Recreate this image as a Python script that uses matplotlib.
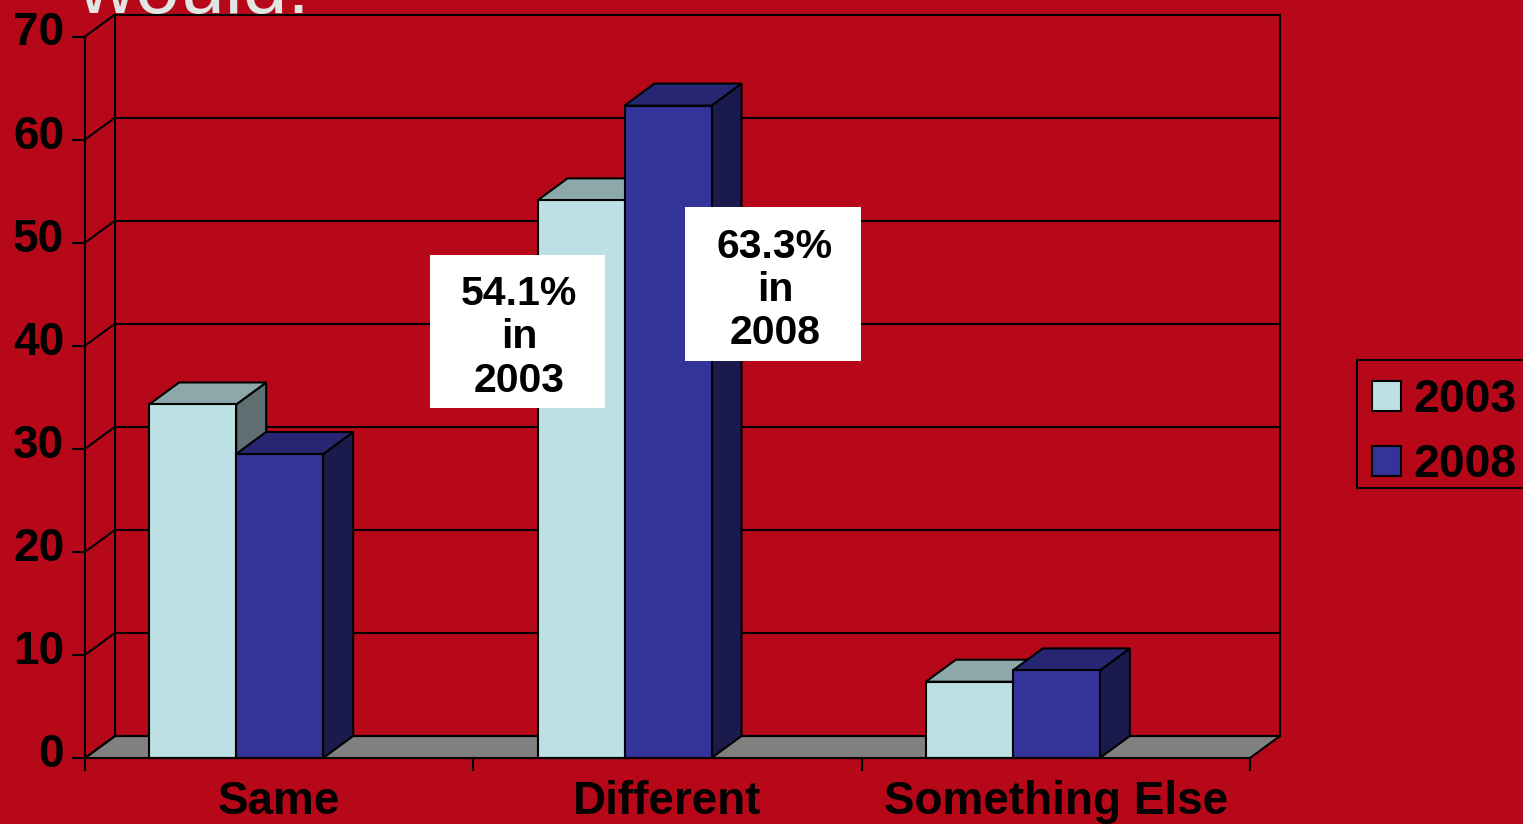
import matplotlib
matplotlib.use("Agg")
import matplotlib.pyplot as plt
from matplotlib.patches import Rectangle, Patch

plt.rcParams['font.family'] = ['Liberation Sans', 'DejaVu Sans']

categories = ['Same', 'Different', 'Something Else']
series_names = ['2003', '2008']
values_2003 = [34.3, 54.1, 7.4]
values_2008 = [29.5, 63.3, 8.5]
y_ticks = [0, 10, 20, 30, 40, 50, 60, 70]
note_2003 = '54.1%\nin\n2003'
note_2008 = '63.3%\nin\n2008'
title_tail = 'would:'

W, H = 1523, 824
RED = '#B60819'
FACE = ['#BCE0E3', '#333399']
TOP = ['#8DA8AA', '#262673']
SIDE = ['#5E7072', '#1A1A4D']
INK = 'black'
LW = 1.5

fig = plt.figure(figsize=(W / 100, H / 100), dpi=100, facecolor=RED)
L, R, B0, T0 = 85, 1250, 758, 36.5
ax = fig.add_axes([L / W, 1 - B0 / H, (R - L) / W, (B0 - T0) / H])
ax.set_xlim(-0.5, 2.5)
ax.set_ylim(0, 70)
ax.axis('off')

px_x = 3 / (R - L)
px_y = 70 / (B0 - T0)
dx = 30 * px_x
dy = 22 * px_y
x0, x1 = -0.5, 2.5

def line(xs, ys, z=2, lw=LW):
    ax.plot(xs, ys, color=INK, lw=lw, clip_on=False, zorder=z, solid_capstyle='projecting')

# floor
ax.fill([x0, x0 + dx, x1 + dx, x1], [0, dy, dy, 0], facecolor='#808080',
        edgecolor=INK, lw=LW, clip_on=False, zorder=1)
# walls and gridlines
for v in y_ticks:
    line([x0 + dx, x1 + dx], [v + dy, v + dy])
    line([x0, x0 + dx], [v, v + dy])
    line([x0 - 12 * px_x, x0], [v, v])
    ax.annotate(str(v), (x0, v), xytext=(-15, 2.2), textcoords='offset points',
                ha='right', va='center', fontsize=33, fontweight='bold',
                color=INK, annotation_clip=False)
line([x0 + dx, x0 + dx], [dy, 70 + dy])
line([x1 + dx, x1 + dx], [dy, 70 + dy])
line([x0, x0], [-12 * px_y, 70])
line([x0, x1], [0, 0], z=30)
for t in [-0.5, 0.5, 1.5, 2.5]:
    line([t, t], [0, -12 * px_y])

# bars
width = 87 * px_x
shift = -43 * px_x
z = 5
for c, cat in enumerate(categories):
    for s, vals in enumerate([values_2003, values_2008]):
        v = vals[c]
        left = c + shift - width + s * width
        right = left + width
        ax.fill([right, right + dx, right + dx, right], [0, dy, v + dy, v],
                facecolor=SIDE[s], edgecolor=INK, lw=LW, clip_on=False, zorder=z)
        ax.fill([left, left + dx, right + dx, right], [v, v + dy, v + dy, v],
                facecolor=TOP[s], edgecolor=INK, lw=LW, clip_on=False, zorder=z)
        ax.bar(left, v, width=width, align='edge', facecolor=FACE[s],
               edgecolor=INK, lw=LW, clip_on=False, zorder=z + 0.5)
        z += 1
    ax.annotate(cat, (c, 0), xytext=(0, -32), textcoords='offset points',
                ha='center', va='center', fontsize=33, fontweight='bold',
                color=INK, annotation_clip=False)

# legend: frame drawn separately because its padding is uneven
fig.add_artist(Rectangle((1357 / W, 1 - 488 / H), 200 / W, 128 / H, transform=fig.transFigure,
                         facecolor=RED, edgecolor=INK, lw=LW, zorder=3))
handles = [Patch(facecolor=FACE[i], edgecolor=INK, lw=LW, label=series_names[i]) for i in range(2)]
leg = fig.legend(handles=handles, loc='upper left', bbox_to_anchor=(1356 / W, 1 - 362 / H),
                 borderaxespad=0, prop={'weight': 'bold', 'size': 33.4},
                 handlelength=0.61, handleheight=0.61, handletextpad=0.27,
                 labelspacing=0.45, borderpad=0.35, frameon=False)
leg.set_zorder(4)
for tx in leg.get_texts():
    tx.set_color(INK)

# white notes
for (bx0, by0, bx1, by1, cx, note) in [(430, 255, 605, 408, 519, note_2003),
                                      (685, 207, 861, 361, 775, note_2008)]:
    fig.add_artist(Rectangle((bx0 / W, 1 - by1 / H), (bx1 - bx0) / W, (by1 - by0) / H,
                             transform=fig.transFigure, facecolor='white',
                             edgecolor='none', zorder=40))
    fig.text(cx / W, 1 - (by0 + by1 + 12) / 2 / H, note, ha='center', va='center',
             fontsize=29.5, fontweight='bold', color=INK, linespacing=1.18, zorder=41)

fig.text(77 / W, 1 - 13 / H, title_tail, ha='left', va='baseline', fontsize=58,
         color='#E2E6E3', zorder=0.5)

fig.savefig('out.png', dpi=100, facecolor=RED)
